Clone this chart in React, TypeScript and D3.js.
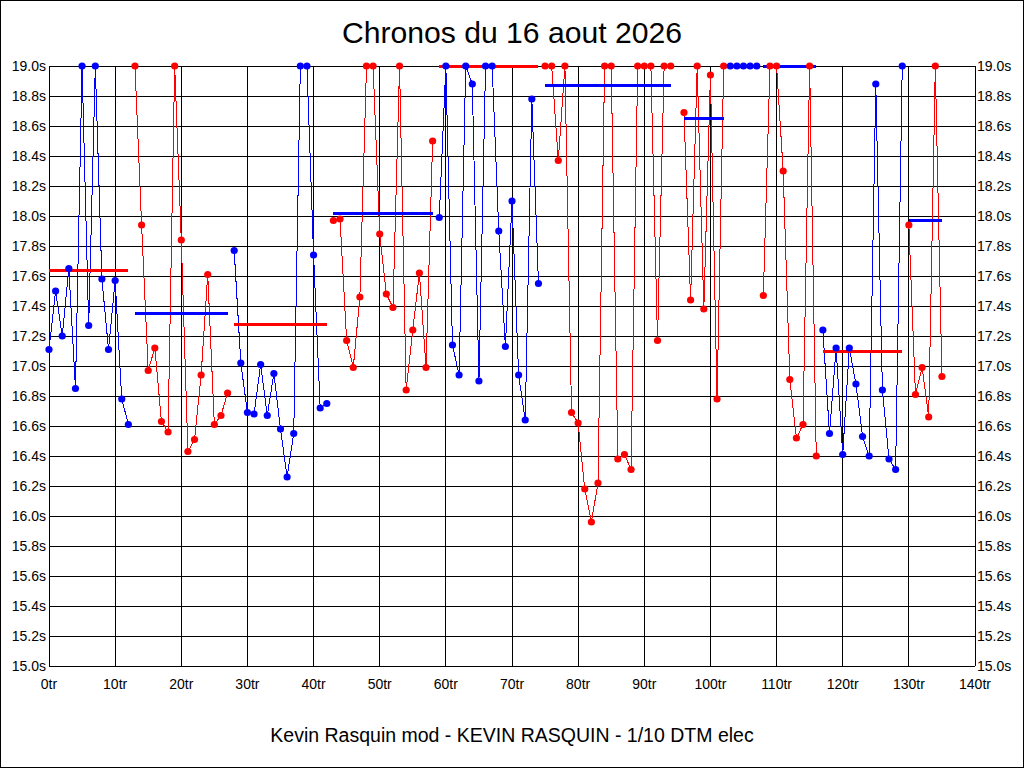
import React from "react";
import * as d3 from "d3";

const title = "Chronos du 16 aout 2026";
const subtitle = "Kevin Rasquin mod - KEVIN RASQUIN - 1/10 DTM elec";

const xTicks = [0, 10, 20, 30, 40, 50, 60, 70, 80, 90, 100, 110, 120, 130, 140];
const yTicks = [15.0, 15.2, 15.4, 15.6, 15.8, 16.0, 16.2, 16.4, 16.6, 16.8, 17.0, 17.2, 17.4, 17.6, 17.8, 18.0, 18.2, 18.4, 18.6, 18.8, 19.0];

// Stints: first lap index, colour, lap times
const stintStarts = [0, 13, 28, 43, 59, 75, 96, 103, 108, 117, 130];
const stintColors = ["blue", "red", "blue", "red", "blue", "red", "red", "blue", "red", "blue", "red"];
const stint1 = [17.11, 17.5, 17.2, 17.65, 16.85, 19.0, 17.27, 19.0, 17.58, 17.11, 17.57, 16.78, 16.61];
const stint2 = [19.0, 17.94, 16.97, 17.12, 16.63, 16.56, 19.0, 17.84, 16.43, 16.51, 16.94, 17.61, 16.61, 16.67, 16.82];
const stint3 = [17.77, 17.02, 16.69, 16.68, 17.01, 16.67, 16.95, 16.58, 16.26, 16.55, 19.0, 19.0, 17.74, 16.72, 16.75];
const stint4 = [17.97, 17.98, 17.17, 16.99, 17.46, 19.0, 19.0, 17.88, 17.48, 17.39, 19.0, 16.84, 17.24, 17.62, 16.99, 18.5];
const stint5 = [17.99, 19.0, 17.14, 16.94, 19.0, 18.88, 16.9, 19.0, 19.0, 17.9, 17.13, 18.1, 16.94, 16.64, 18.78, 17.55];
const stint6 = [19.0, 19.0, 18.37, 19.0, 16.69, 16.62, 16.18, 15.96, 16.22, 19.0, 19.0, 16.38, 16.41, 16.31, 19.0, 19.0, 19.0, 17.17, 19.0, 19.0];
const stint7 = [18.69, 17.44, 19.0, 17.38, 18.94, 16.78, 19.0];
const stint8 = [19.0, 19.0, 19.0, 19.0, 19.0];
const stint9 = [17.47, 19.0, 19.0, 18.3, 16.91, 16.52, 16.61, 19.0, 16.4];
const stint10 = [17.24, 16.55, 17.12, 16.41, 17.12, 16.88, 16.53, 16.4, 18.88, 16.84, 16.38, 16.31, 19.0];
const stint11 = [17.94, 16.81, 16.99, 16.66, 19.0, 16.93];
const stintValues = [stint1, stint2, stint3, stint4, stint5, stint6, stint7, stint8, stint9, stint10, stint11];

// Average line per stint (drawn in the other colour)
const stintAverages = [17.64, 17.35, 17.28, 18.02, 19.0, 18.87, 18.65, 19.0, 19.0, 17.1, 17.97];

const FONT = "'Liberation Sans', Arial, sans-serif";

export default function App() {
  const W = 1024;
  const H = 768;
  const x = d3.scaleLinear().domain([0, 140]).range([49, 975]);
  const y = d3.scaleLinear().domain([15, 19]).range([666, 66]);

  const stints = stintValues.map((vals, i) => ({
    color: stintColors[i],
    other: stintColors[i] === "blue" ? "red" : "blue",
    avg: stintAverages[i],
    pts: vals.map((v, j) => ({ lap: stintStarts[i] + j, v })),
  }));

  const line = d3
    .line<{ lap: number; v: number }>()
    .x((d) => x(d.lap))
    .y((d) => y(d.v));

  return (
    <svg
      width={W}
      height={H}
      style={{ position: "absolute", left: 0, top: 0, background: "#fff" }}
      fontFamily={FONT}
    >
      <rect x={0} y={0} width={W} height={H} fill="#fff" />
      <rect x={0.5} y={0.5} width={W - 1} height={H - 1} fill="none" stroke="#000" strokeWidth={1} />

      {/* grid */}
      <g shapeRendering="crispEdges" stroke="#000" strokeWidth={1}>
        {xTicks.map((t) => (
          <line key={"gx" + t} x1={x(t)} x2={x(t)} y1={y(19)} y2={y(15)} />
        ))}
        {yTicks.map((t) => (
          <line key={"gy" + t} x1={x(0)} x2={x(140)} y1={y(t)} y2={y(t)} />
        ))}
      </g>

      {/* lap lines */}
      <g fill="none" strokeWidth={1} shapeRendering="crispEdges">
        {stints.map((s, i) => (
          <path key={"l" + i} d={line(s.pts) || ""} stroke={s.color} />
        ))}
      </g>

      {/* average lines */}
      <g strokeWidth={3} shapeRendering="crispEdges">
        {stints.map((s, i) => (
          <line
            key={"a" + i}
            x1={x(s.pts[0].lap)}
            x2={x(s.pts[s.pts.length - 1].lap)}
            y1={y(s.avg)}
            y2={y(s.avg)}
            stroke={s.other}
          />
        ))}
      </g>

      {/* points */}
      <g>
        {stints.map((s, i) =>
          s.pts.map((p) => (
            <circle key={"p" + i + "-" + p.lap} cx={x(p.lap)} cy={y(p.v)} r={3.6} fill={s.color} />
          ))
        )}
      </g>

      {/* axes labels */}
      <g fontSize={14} fill="#000">
        {yTicks.map((t) => (
          <text key={"yl" + t} x={46} y={y(t) + 5} textAnchor="end">
            {t.toFixed(1) + "s"}
          </text>
        ))}
        {yTicks.map((t) => (
          <text key={"yr" + t} x={977} y={y(t) + 5} textAnchor="start">
            {t.toFixed(1) + "s"}
          </text>
        ))}
        {xTicks.map((t) => (
          <text key={"xl" + t} x={x(t)} y={689} textAnchor="middle">
            {t + "tr"}
          </text>
        ))}
      </g>

      <text
        x={512}
        y={43}
        textAnchor="middle"
        fontSize={29}
        fill="#000"
        textLength={340}
        lengthAdjust="spacingAndGlyphs"
      >
        {title}
      </text>
      <text x={512} y={742} textAnchor="middle" fontSize={19.5} fill="#000">
        {subtitle}
      </text>
    </svg>
  );
}
